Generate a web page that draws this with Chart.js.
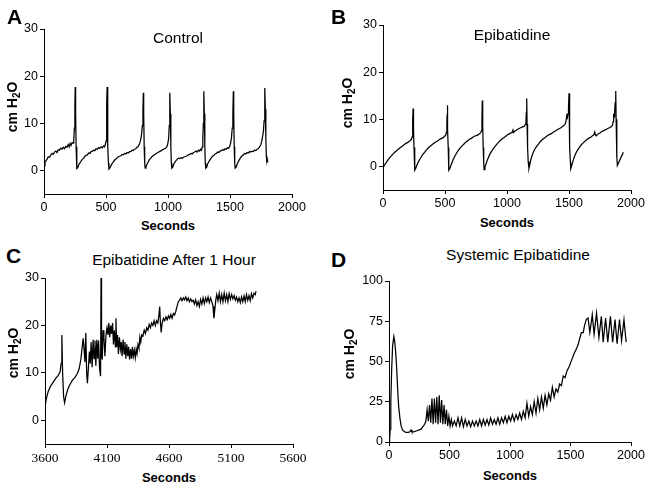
<!DOCTYPE html>
<html lang="en">
<head>
<meta charset="UTF-8">
<title>Airway pressure traces</title>
<script src="https://cdn.jsdelivr.net/npm/chart.js@4.4.1/dist/chart.umd.min.js"></script>
<style>
    body {
        margin: 0;
        background: #fff;
        font-family: 'Liberation Sans', Arial, sans-serif;
    }
    #figure {
        position: relative;
        width: 649px;
        height: 487px;
        overflow: hidden;
        background: #fff;
    }
    #figure canvas {
        position: absolute;
    }
    .lbl {
        position: absolute;
        transform: translate(-50%, -50%);
        white-space: nowrap;
        color: #000;
    }
    .letter {
        position: absolute;
        font-weight: bold;
        font-size: 21px;
        line-height: 21px;
    }
    .title {
        font-size: 15.5px;
    }
    .xt {
        font-size: 13px;
        font-weight: bold;
    }
    .yt {
        font-size: 14px;
        font-weight: bold;
        transform: translate(-50%, -50%) rotate(-90deg);
    }
    .yt sub {
        font-size: 10px;
        vertical-align: -3px;
        line-height: 0;
    }
</style>
</head>
<body>
<div id="figure">
    <canvas id="chartA" width="304" height="195" style="left:4px;top:21px;width:304px;height:195px"></canvas>
    <canvas id="chartB" width="304" height="195" style="left:343px;top:17px;width:304px;height:195px"></canvas>
    <canvas id="chartC" width="304" height="196" style="left:5px;top:270px;width:304px;height:196px"></canvas>
    <canvas id="chartD" width="298" height="191" style="left:349px;top:273px;width:298px;height:191px"></canvas>

    <div class="letter" style="left:7px;top:6px">A</div>
    <div class="letter" style="left:331px;top:6px">B</div>
    <div class="letter" style="left:6px;top:245px">C</div>
    <div class="letter" style="left:331px;top:249px">D</div>

    <div class="lbl title" style="left:178px;top:38px">Control</div>
    <div class="lbl title" style="left:512px;top:35px">Epibatidine</div>
    <div class="lbl title" style="left:174px;top:260px">Epibatidine After 1 Hour</div>
    <div class="lbl title" style="left:518px;top:255px">Systemic Epibatidine</div>

    <div class="lbl xt" style="left:168px;top:225px">Seconds</div>
    <div class="lbl xt" style="left:507px;top:222px">Seconds</div>
    <div class="lbl xt" style="left:169px;top:477px">Seconds</div>
    <div class="lbl xt" style="left:510px;top:475px">Seconds</div>

    <div class="lbl yt" style="left:12px;top:107px">cm H<sub>2</sub>O</div>
    <div class="lbl yt" style="left:347px;top:103px">cm H<sub>2</sub>O</div>
    <div class="lbl yt" style="left:13px;top:353px">cm H<sub>2</sub>O</div>
    <div class="lbl yt" style="left:349px;top:354px">cm H<sub>2</sub>O</div>
</div>

<script>
    // [seconds, cm H2O]
    const controlTrace = [
        [0,1.0],[8,1.7],[15,2.0],[25,2.4],[35,2.9],[45,2.8],[55,3.3],[65,3.6],[75,3.4],[85,3.9],[95,4.1],[105,3.8],[115,4.4],[125,4.3],[135,4.7],[145,4.5],[155,4.9],[165,4.6],[175,5.1],[185,4.9],[195,5.5],[203,5.0],[210,5.7],[218,5.3],[226,5.9],[234,5.8],[240,6.4],[245,9],[249,14],[252,17.7],[255,12],[259,5],[263,1.5],[266,0.4],
        [272,0.6],[280,1.2],[290,1.6],[300,2.0],[310,2.4],[320,2.6],[330,3.0],[340,3.2],[350,3.3],[360,3.7],[370,3.6],[380,4.0],[390,4.1],[400,4.3],[410,4.2],[420,4.6],[430,4.5],[440,4.8],[450,4.7],[460,5.0],[470,4.8],[480,5.2],[488,5.0],[495,5.5],[500,6.2],[504,9],[507,14],[509,17.7],[512,12],[516,5],[520,1.5],[524,0.3],
        [530,0.5],[540,1.0],[550,1.5],[560,1.8],[570,2.2],[580,2.4],[590,2.7],[600,2.9],[610,3.0],[620,3.1],[630,3.4],[640,3.3],[650,3.6],[660,3.5],[670,3.8],[680,3.7],[690,4.0],[700,4.0],[710,4.3],[720,4.2],[730,4.5],[740,4.6],[750,4.9],[760,5.1],[770,5.6],[778,6.3],[786,7.5],[793,9.5],[798,13],[801,16.5],[804,12],[808,5],[812,1.5],[816,0.5],
        [822,0.7],[830,1.3],[840,1.8],[850,2.3],[860,2.6],[870,2.9],[880,3.1],[890,3.3],[900,3.5],[910,3.7],[920,3.8],[930,4.0],[940,4.1],[950,4.3],[960,4.4],[970,4.6],[980,4.7],[990,5.0],[998,5.6],[1005,6.8],[1010,9.5],[1013,13],[1016,16.5],[1019,12],[1023,5],[1027,1.5],[1031,0.5],
        [1038,0.7],[1046,1.3],[1055,1.7],[1065,2.1],[1075,2.4],[1085,2.6],[1095,2.5],[1105,2.7],[1115,2.6],[1125,2.8],[1135,2.9],[1145,3.0],[1155,3.1],[1165,3.3],[1175,3.4],[1185,3.6],[1195,3.5],[1205,3.8],[1215,3.9],[1225,4.1],[1235,3.9],[1245,4.3],[1255,4.1],[1263,4.5],[1270,4.3],[1276,5.0],[1281,7],[1285,10],[1288,14],[1290,16.8],[1293,12],[1297,5],[1301,1.5],[1305,0.5],
        [1312,0.7],[1320,1.4],[1330,1.9],[1340,2.3],[1350,2.7],[1360,3.0],[1370,3.2],[1380,3.5],[1390,3.6],[1400,3.9],[1410,3.8],[1420,4.1],[1430,4.2],[1440,4.4],[1450,4.3],[1460,4.6],[1470,4.5],[1480,4.8],[1490,4.7],[1498,5.2],[1505,5.8],[1512,7.0],[1518,9.0],[1523,12],[1527,16.8],[1530,12],[1534,5],[1538,1.5],[1542,0.5],
        [1550,0.7],[1558,1.4],[1568,1.9],[1578,2.4],[1588,2.8],[1598,3.1],[1608,3.3],[1618,3.6],[1628,3.5],[1638,3.8],[1648,3.7],[1658,4.0],[1668,3.9],[1678,4.1],[1688,4.0],[1698,4.3],[1708,4.2],[1718,4.5],[1728,4.6],[1738,5.0],[1748,5.4],[1756,6.2],[1763,7.2],[1770,8.5],[1775,10.5],[1779,14],[1782,17.5],[1785,13],[1789,7],[1793,3],[1797,2],[1800,2.3],[1802,1.7],[1804,2.2]
    ];

    const epibatidineTrace = [
        [0,-0.3],[10,0.2],[20,0.6],[35,1.2],[50,1.7],[65,2.2],[80,2.6],[95,3.0],[110,3.3],[125,3.7],[140,4.0],[155,4.3],[170,4.6],[185,4.9],[200,5.1],[215,5.4],[228,5.7],[234,6.2],[238,7.5],[241,10],[243,12.3],[246,8],[250,4],[254,1],[258,-0.8],
        [266,-0.3],[275,0.4],[290,1.2],[305,1.9],[320,2.5],[335,3.0],[350,3.5],[365,3.9],[380,4.3],[395,4.6],[410,4.9],[425,5.2],[440,5.4],[455,5.7],[470,5.9],[485,6.1],[497,6.4],[505,6.6],[511,7.2],[515,9],[517,11],[519,13],[522,8],[526,4],[529,1],[532,-0.8],
        [540,-0.4],[550,0.4],[565,1.4],[580,2.2],[595,2.9],[610,3.5],[625,4.0],[640,4.4],[655,4.8],[670,5.2],[685,5.5],[700,5.8],[715,6.0],[730,6.3],[745,6.5],[760,6.6],[775,6.9],[787,7.1],[794,7.6],[798,10],[801,14],[804,9],[808,4],[812,1],[815,-0.7],
        [822,-0.2],[830,0.5],[845,1.6],[860,2.5],[875,3.2],[890,3.8],[905,4.3],[920,4.8],[935,5.2],[950,5.6],[965,5.9],[980,6.2],[995,6.5],[1010,6.8],[1025,7.0],[1040,7.2],[1048,7.7],[1052,7.2],[1065,7.5],[1080,7.8],[1095,8.0],[1110,8.2],[1125,8.4],[1138,8.5],[1148,8.9],[1153,9.6],[1156,11.5],[1159,14.4],[1162,9],[1166,4],[1171,1],[1177,-0.4],
        [1183,0.3],[1190,1.2],[1200,2.1],[1212,3.0],[1225,3.7],[1240,4.3],[1255,4.8],[1270,5.3],[1285,5.7],[1300,6.0],[1315,6.3],[1330,6.6],[1345,6.8],[1360,7.0],[1375,7.3],[1390,7.5],[1405,7.8],[1420,8.0],[1435,8.2],[1450,8.5],[1465,8.8],[1475,9.4],[1482,10.8],[1487,10.4],[1492,11.2],[1496,12.5],[1500,15.5],[1503,9],[1507,4],[1511,1],[1514,-0.5],
        [1520,0],[1530,0.9],[1540,1.8],[1555,2.8],[1570,3.5],[1585,4.1],[1600,4.6],[1615,5.0],[1630,5.4],[1645,5.7],[1660,6.0],[1675,6.2],[1690,6.5],[1700,6.7],[1708,7.3],[1713,6.7],[1720,6.5],[1735,6.9],[1750,7.1],[1765,7.4],[1780,7.6],[1795,7.8],[1810,8.0],[1825,8.2],[1840,8.4],[1850,8.7],[1856,9.5],[1860,11.2],[1864,10.5],[1868,11.5],[1872,13.5],[1877,16.0],[1880,10],[1884,5],[1887,2],[1890,0.2],[1900,0.8],[1915,1.7],[1930,2.5],[1938,3.0]
    ];

    const afterHourTrace = [
        [3600,2.7],[3610,4.5],[3625,6],[3645,7.2],[3665,8],[3685,8.8],[3705,9.4],[3722,10.2],[3730,12],[3736,18],[3742,10],[3750,5],[3758,3.7],[3770,5.3],[3785,6.6],[3800,7.5],[3820,8.4],[3840,9.0],[3860,9.8],[3875,10.8],[3890,13],[3900,15.5],[3908,17.3],[3915,15],[3922,12.3],[3929,18.4],[3936,10],[3942,7.8],[3950,11],[3958,14.5],[3965,12],[3972,16.5],[3980,11.2],[3988,17],[3996,13],[4003,16.8],[4010,11.5],[4018,17],[4025,13],[4032,16.8],[4040,11],[4048,9.3],[4052,30],[4056,14],[4062,12.8],[4068,19],[4075,17.5],[4083,13.5],[4092,18],[4100,19.5],
        [4108,18],[4115,20.5],[4122,17.5],[4130,20],[4137,18.2],[4145,20.5],[4152,16],[4160,19],[4168,15.5],[4172,21.5],[4178,15.5],[4185,18],[4192,14],[4200,17.5],[4208,15],[4215,16.5],[4222,13.5],[4230,17],[4238,14],[4245,16.5],[4252,13],[4260,16],[4268,13.5],[4275,15.5],[4282,12.8],[4290,15],[4298,13],[4305,15.5],[4312,13.5],[4320,14.8],[4328,13.2],[4335,15],[4342,14],[4350,16],[4358,15.2],[4365,17.5],[4372,16.5],[4380,18],[4390,17.8],[4400,19],[4410,18.3],[4420,19.5],[4430,19],[4440,20.2],[4450,19.5],[4460,20.5],[4470,20],[4480,21],[4490,20],[4500,21],[4510,20.5],[4518,22],[4525,24],[4530,21],[4537,18.5],[4545,20.5],
        [4555,21.5],[4565,21],[4575,21.8],[4585,21.2],[4595,22],[4605,21.5],[4615,22.3],[4625,21.5],[4635,22.5],[4645,22.2],[4655,23],[4665,24],[4675,25],[4685,25.3],[4695,25.8],[4705,25.2],[4715,25.8],[4725,25.4],[4735,26],[4745,25.2],[4755,25.8],[4765,25],[4775,25.6],[4785,25],[4795,25.3],[4805,24.5],[4815,25.4],[4825,24.2],[4835,25],[4845,24],[4855,25.5],[4865,24.5],[4875,25.8],[4885,24.6],[4895,25.8],[4905,25],[4915,26],[4925,24.8],[4935,25.8],[4945,25],[4955,24],[4962,21.5],[4970,23.5],[4978,25.5],[4985,26.5],[4995,25.2],
        [5005,26.8],[5015,25],[5025,26.5],[5035,25],[5045,26.8],[5055,25.2],[5065,26.5],[5075,25],[5085,26.7],[5095,25.5],[5105,26.5],[5115,25.6],[5125,26.3],[5135,25.3],[5145,26],[5155,25],[5165,25.8],[5175,24.8],[5185,26],[5195,25],[5205,26.2],[5215,25],[5225,26.5],[5235,25.3],[5245,26.3],[5255,25.2],[5265,26.7],[5275,25.8],[5285,26.8],[5295,26.5],[5302,27.2]
    ];

    const systemicTrace = [
        [0,3],[5,2],[10,8],[15,25],[22,45],[30,60],[40,65.5],[48,62],[56,55],[64,45],[72,32],[80,22],[90,15],[100,10],[112,7.5],[125,6.5],[140,6],[160,6],[175,6.5],[182,7.5],[190,6.2],[210,6.5],[230,7],[250,7.5],[265,8],[280,9.5],[295,11],[305,13],
        [315,20],[325,13],[335,23],[345,12],[355,27],[365,11],[375,27],[385,12],[395,28],[405,11],[415,29],[425,12],[435,26],[445,11],[455,23],[465,11],[475,20],[485,10],[495,16],[505,10],[515,14],[525,10],
        [540,13],[555,10],[570,15],[585,10],[600,15],[615,9.5],[630,14],[645,10],[660,13],[675,9.5],[690,13],[705,10],[720,13],[735,10],[750,14],[765,10],[780,14],[795,10.5],[810,14],[825,10.5],[840,15],[855,11],[870,14],[885,11],[900,15],[915,11],[930,15],[945,12],[960,16],[975,12],[990,16],[1005,13],
        [1020,17],[1035,13],[1050,17],[1065,14],[1080,18],[1095,14],[1110,19],[1125,15],[1140,24],[1155,16],[1170,22],[1185,17],[1200,25],[1215,18],[1230,27],[1245,20],[1260,28],[1275,21],[1290,29],[1305,23],[1320,30],[1335,26],[1350,34],[1365,28],[1380,33],[1395,31],[1410,36],[1425,35],[1440,41],[1455,40],[1470,44],[1490,47],[1510,51],[1530,55],[1550,58],[1565,61],[1575,64],[1590,68],[1605,68],[1615,72],[1630,76],
        [1645,77],[1660,68],[1680,79],[1695,67],[1715,80],[1735,65],[1755,78],[1770,62],[1790,77],[1808,62],[1830,78],[1848,62],[1868,76],[1885,61],[1905,76],[1922,63],[1942,76],[1960,62]
    ];

    const secTicks = [0, 500, 1000, 1500, 2000];
    const hourSecTicks = [3600, 4100, 4600, 5100, 5600];
    const cmTicks = [0, 10, 20, 30];
    const systemicCmTicks = [0, 25, 50, 75, 100];

    const sans = "'Liberation Sans', Arial, sans-serif";
    const serif = "'Liberation Serif', 'Times New Roman', serif";

    Chart.defaults.color = '#000';
    Chart.defaults.font.family = sans;

    function drawPanel(canvasId, trace, xMin, xMax, xTicks, yMin, yMax, yTicks, xFontFamily) {
        const axisGrid = { drawOnChartArea: false, drawTicks: true, tickLength: 4, color: '#000', lineWidth: 1 };
        return new Chart(document.getElementById(canvasId), {
            type: 'line',
            data: {
                datasets: [{
                    data: trace.map(p => ({ x: p[0], y: p[1] })),
                    borderColor: '#000',
                    borderWidth: 1.25,
                    pointRadius: 0,
                    tension: 0,
                    fill: false
                }]
            },
            options: {
                responsive: false,
                animation: false,
                events: [],
                layout: { padding: { top: 8, right: 16, bottom: 0, left: 0 } },
                plugins: {
                    legend: { display: false },
                    tooltip: { enabled: false }
                },
                scales: {
                    x: {
                        type: 'linear',
                        min: xMin,
                        max: xMax,
                        afterBuildTicks: s => { s.ticks = xTicks.map(v => ({ value: v })); },
                        afterFit: s => { s.height = 22; s.paddingLeft = 0; s.paddingRight = 0; },
                        grid: axisGrid,
                        border: { display: true, color: '#000', width: 1 },
                        ticks: {
                            autoSkip: false,
                            maxRotation: 0,
                            padding: 2,
                            color: '#000',
                            callback: v => String(v),
                            font: { family: xFontFamily, size: xFontFamily === serif ? 13.5 : 12.5 }
                        }
                    },
                    y: {
                        type: 'linear',
                        min: yMin,
                        max: yMax,
                        afterBuildTicks: s => { s.ticks = yTicks.map(v => ({ value: v })); },
                        afterFit: s => { s.width = 40; s.paddingTop = 0; s.paddingBottom = 0; },
                        grid: axisGrid,
                        border: { display: true, color: '#000', width: 1 },
                        ticks: {
                            padding: 2,
                            color: '#000',
                            callback: v => String(v),
                            font: { family: sans, size: 12.5 }
                        }
                    }
                }
            }
        });
    }

    drawPanel('chartA', controlTrace, 0, 2000, secTicks, -5, 30, cmTicks, sans);
    drawPanel('chartB', epibatidineTrace, 0, 2000, secTicks, -5, 30, cmTicks, sans);
    drawPanel('chartC', afterHourTrace, 3600, 5600, hourSecTicks, -5, 30, cmTicks, serif);
    drawPanel('chartD', systemicTrace, 0, 2000, secTicks, 0, 100, systemicCmTicks, sans);
</script>
</body>
</html>
